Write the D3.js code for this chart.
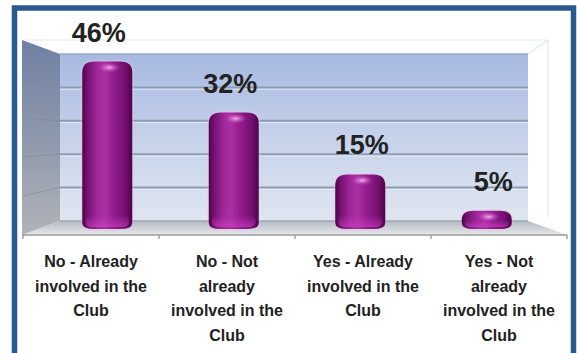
<!DOCTYPE html>
<html>
<head>
<meta charset="utf-8">
<script src="https://cdn.jsdelivr.net/npm/d3@7"></script>
<style>
  html, body { margin: 0; padding: 0; background: #ffffff; }
  svg { display: block; }
</style>
</head>
<body>
<div id="chart"></div>
<script>
// Survey answers and their shares (percent)
const categories = ["noAlready", "noNot", "yesAlready", "yesNot"];
const categoryLines = [
  ["No - Already", "involved in the", "Club"],
  ["No - Not", "already", "involved in the", "Club"],
  ["Yes - Already", "involved in the", "Club"],
  ["Yes - Not", "already", "involved in the", "Club"]
];
const values = [46, 32, 15, 5];
const valueLabels = ["46%", "32%", "15%", "5%"];
const gridTicks = [0, 10, 20, 30, 40, 50];

const W = 577, H = 353;
const svg = d3.select("#chart").append("svg").attr("width", W).attr("height", H);
const defs = svg.append("defs");

// Pseudo-3D box: front plane, back plane and a mid-depth plane where the columns stand
const xFront = d3.scaleBand().domain(categories).range([23, 567]);
const xBack  = d3.scaleBand().domain(categories).range([60, 528]);
const xMid   = d3.scaleBand().domain(categories).range([44, 550]).paddingInner(0);
const xLab   = d3.scaleBand().domain(categories).range([33, 559]);
const yFront = d3.scaleLinear().domain([0, 50]).range([235, 40]);
const yBack  = d3.scaleLinear().domain([0, 50]).range([221, 54]);
const yMid   = d3.scaleLinear().domain([0, 50]).range([229, 47]);

// Gradients
function linGrad(id, x1, y1, x2, y2, stops) {
  const g = defs.append("linearGradient").attr("id", id)
    .attr("x1", x1).attr("y1", y1).attr("x2", x2).attr("y2", y2);
  stops.forEach(s => g.append("stop").attr("offset", s[0]).attr("stop-color", s[1]));
}
linGrad("wallBack", 0, 0, 0, 1, [[0, "#a7b9e1"], [0.45, "#c3d0ea"], [1, "#e0e6f0"]]);
linGrad("wallLeft", 0, 0, 0, 1, [[0, "#7080a3"], [0.5, "#8e98ab"], [1, "#b0b3b8"]]);
linGrad("floor", 0, 0, 0, 1, [[0, "#b4bac3"], [1, "#e6e8eb"]]);
linGrad("barBody", 0, 0, 1, 0, [
  [0, "#4a0747"], [0.1, "#74106f"], [0.3, "#a0279a"], [0.45, "#ab2fa4"],
  [0.6, "#951f8f"], [0.85, "#760f72"], [1, "#4c0649"]
]);
linGrad("barBase", 0, 0, 0, 1, [[0, "rgba(210,60,200,0)"], [1, "rgba(215,70,205,0.55)"]]);
const rg = defs.append("radialGradient").attr("id", "barGlint");
rg.append("stop").attr("offset", 0).attr("stop-color", "#f7b6ef").attr("stop-opacity", 0.95);
rg.append("stop").attr("offset", 1).attr("stop-color", "#d050c8").attr("stop-opacity", 0);

// Outer frame
svg.append("rect").attr("x", 14.5).attr("y", 8).attr("width", 559).attr("height", 360)
  .attr("fill", "#ffffff").attr("stroke", "#285a8e").attr("stroke-width", 5.5);

const g = svg.append("g");
const x0f = xFront.range()[0], x1f = xFront.range()[1];
const x0b = xBack.range()[0], x1b = xBack.range()[1];

// Faint outline of the box top / right side
g.append("path")
  .attr("d", `M${x0f - 1},${yFront(50)} L548,${yFront(50)} L548,${yBack(0) - 4} M${x1b},${yBack(50)} L548,${yFront(50)}`)
  .attr("fill", "none").attr("stroke", "#e5e9ef").attr("stroke-width", 1.2);

// Back wall
g.append("rect").attr("x", x0b).attr("y", yBack(50))
  .attr("width", x1b - x0b).attr("height", yBack(0) - yBack(50))
  .attr("fill", "url(#wallBack)");

// Gridlines on the back wall
gridTicks.filter(t => t > 0 && t < 50).forEach(t => {
  g.append("line").attr("x1", x0b).attr("x2", x1b)
    .attr("y1", yBack(t)).attr("y2", yBack(t))
    .attr("stroke", "#8c9bb4").attr("stroke-width", 2);
  g.append("line").attr("x1", x0b).attr("x2", x1b)
    .attr("y1", yBack(t) + 1.8).attr("y2", yBack(t) + 1.8)
    .attr("stroke", "#eef2f9").attr("stroke-width", 1).attr("opacity", 0.8);
});
g.append("line").attr("x1", x0b).attr("x2", x1b)
  .attr("y1", yBack(50)).attr("y2", yBack(50))
  .attr("stroke", "#9aa8be").attr("stroke-width", 1.5);

// Left side wall
g.append("path")
  .attr("d", `M${x0f - 1},${yFront(50)} L${x0b},${yBack(50)} L${x0b},${yBack(0)} L${x0f - 1},${yFront(0)} Z`)
  .attr("fill", "url(#wallLeft)");
gridTicks.filter(t => t > 0 && t < 50).forEach(t => {
  g.append("line").attr("x1", x0f - 1).attr("x2", x0b)
    .attr("y1", yFront(t)).attr("y2", yBack(t))
    .attr("stroke", "#7d879a").attr("stroke-width", 1).attr("opacity", 0.5);
});

// Floor
g.append("path")
  .attr("d", `M${x0b},${yBack(0)} L${x1b},${yBack(0)} L${x1f},${yFront(0)} L${x0f - 1},${yFront(0)} Z`)
  .attr("fill", "url(#floor)");
g.append("line").attr("x1", x0b).attr("x2", x1b)
  .attr("y1", yBack(0)).attr("y2", yBack(0))
  .attr("stroke", "#9da6b3").attr("stroke-width", 1.5);

// Front axis with tick marks at category boundaries
const axisG = g.append("g").attr("transform", `translate(0,${yFront(0)})`);
axisG.append("line").attr("x1", x0f - 1).attr("x2", x1f)
  .attr("stroke", "#9b9b9b").attr("stroke-width", 1.5);
const bounds = categories.map(c => xFront(c)).concat([x1f]);
axisG.selectAll("line.tick").data(bounds).join("line").attr("class", "tick")
  .attr("x1", d => d).attr("x2", d => d).attr("y1", 0).attr("y2", 4)
  .attr("stroke", "#8e8e8e").attr("stroke-width", 1.2);

// Cylinder-like columns
const barW = 50;
function barPath(cx, yt, yb) {
  const xl = cx - barW / 2, xr = cx + barW / 2;
  const h = yb - yt;
  const rt = Math.min(11, h / 2), rb = Math.min(6, h / 2);
  const rx = 12;
  return `M${xl},${yb - rb}` +
    ` L${xl},${yt + rt}` +
    ` Q${xl},${yt} ${xl + rx},${yt}` +
    ` L${xr - rx},${yt}` +
    ` Q${xr},${yt} ${xr},${yt + rt}` +
    ` L${xr},${yb - rb}` +
    ` Q${xr},${yb} ${xr - rx},${yb}` +
    ` L${xl + rx},${yb}` +
    ` Q${xl},${yb} ${xl},${yb - rb} Z`;
}

const bars = g.selectAll("g.bar").data(categories).join("g").attr("class", "bar");
bars.each(function (c, i) {
  const sel = d3.select(this);
  const cx = xMid(c) + xMid.bandwidth() / 2;
  const yt = yMid(values[i]), yb = yMid(0);
  const d = barPath(cx, yt, yb);
  sel.append("path").attr("d", d).attr("fill", "#d9a6d6").attr("opacity", 0.35)
    .attr("transform", "translate(0,0)").attr("stroke", "#e9c4e6").attr("stroke-width", 3);
  sel.append("path").attr("d", d).attr("fill", "url(#barBody)");
  // lighter base band
  const baseH = Math.min(14, (yb - yt) * 0.5);
  sel.append("rect").attr("x", cx - barW / 2 + 3).attr("y", yb - baseH)
    .attr("width", barW - 6).attr("height", baseH - 2).attr("rx", 6)
    .attr("fill", "url(#barBase)");
  // top glint
  sel.append("ellipse").attr("cx", cx + 2).attr("cy", yt + Math.min(6, (yb - yt) / 2))
    .attr("rx", 11).attr("ry", Math.min(5, (yb - yt) / 3))
    .attr("fill", "url(#barGlint)");
});

// Value labels above the columns
g.selectAll("text.val").data(categories).join("text").attr("class", "val")
  .attr("x", c => xLab(c) + xLab.bandwidth() / 2)
  .attr("y", (c, i) => yMid(values[i]) - 20)
  .attr("text-anchor", "middle")
  .attr("font-family", "'Liberation Sans', Arial, sans-serif")
  .attr("font-weight", "bold").attr("font-size", 27)
  .attr("fill", "#222222")
  .text((c, i) => valueLabels[i]);

// Category labels (wrapped) below the axis
const catG = g.selectAll("text.cat").data(categories).join("text").attr("class", "cat")
  .attr("text-anchor", "middle")
  .attr("font-family", "'Liberation Sans', Arial, sans-serif")
  .attr("font-weight", "bold").attr("font-size", 16)
  .attr("fill", "#222222");
catG.each(function (c, i) {
  const t = d3.select(this);
  const cx = xFront(c) + xFront.bandwidth() / 2;
  categoryLines[i].forEach((line, k) => {
    t.append("tspan").attr("x", cx).attr("y", 267 + k * 24.5).text(line);
  });
});
</script>
</body>
</html>
